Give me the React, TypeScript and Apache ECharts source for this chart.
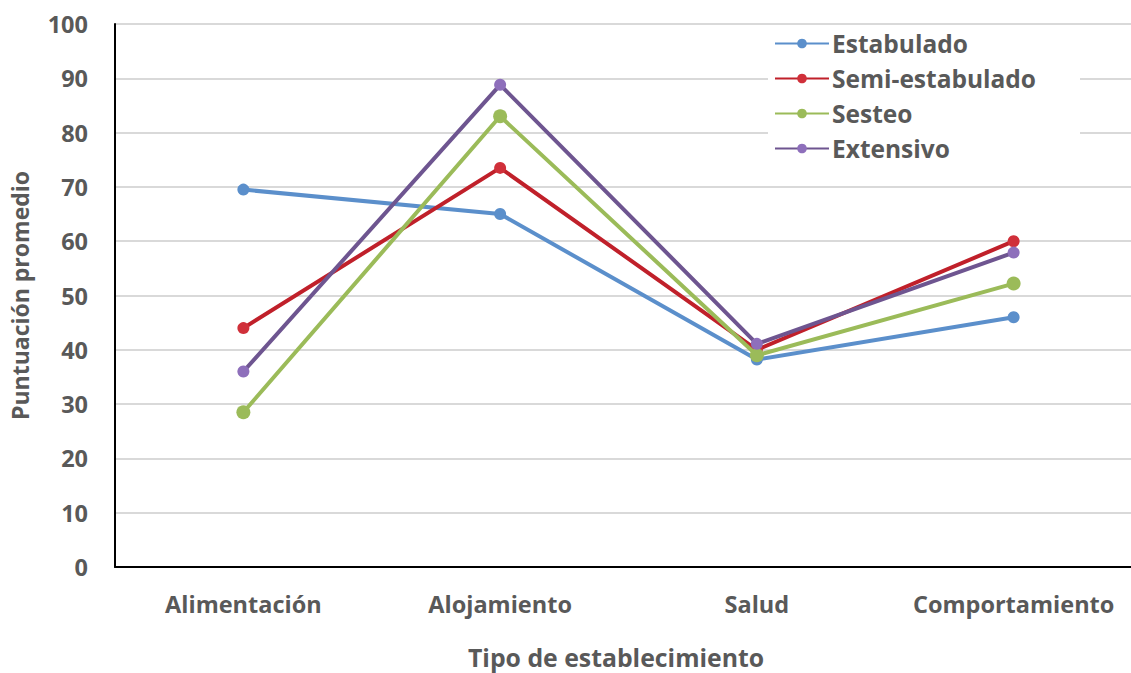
import React, { useEffect, useRef } from "react";
import * as echarts from "echarts";

const categories = ["Alimentación", "Alojamiento", "Salud", "Comportamiento"];
const seriesNames = ["Estabulado", "Semi-estabulado", "Sesteo", "Extensivo"];
const estabulado = [69.5, 65, 38.2, 46];
const semiEstabulado = [44, 73.5, 40, 60];
const sesteo = [28.5, 83, 39, 52.2];
const extensivo = [36, 88.8, 41.1, 57.9];
const yTicks = [0, 10, 20, 30, 40, 50, 60, 70, 80, 90, 100];

const lineColors = ["#5B8FCB", "#C0202A", "#9BBB59", "#6E5590"];
const markerColors = ["#5B8FCB", "#D0303A", "#9BBB59", "#8E6FBB"];
const FONT = "Open Sans";
const TEXT = "#595959";

export default function App() {
  const ref = useRef<HTMLDivElement>(null);
  useEffect(() => {
    if (!ref.current) return;
    const chart = echarts.init(ref.current, null, { renderer: "svg" });
    const data = [estabulado, semiEstabulado, sesteo, extensivo];
    chart.setOption({
      animation: false,
      backgroundColor: "#fff",
      textStyle: { fontFamily: FONT },
      grid: { left: 113, top: 24, bottom: 106, right: 0, containLabel: false },
      legend: {
        orient: "vertical",
        left: 768,
        top: 25,
        backgroundColor: "#fff",
        padding: [4, 44, 4, 6],
        itemWidth: 54,
        itemHeight: 12,
        itemGap: 6,
        data: seriesNames,
        textStyle: { fontFamily: FONT, fontSize: 24.5, fontWeight: "bold", color: TEXT, lineHeight: 29, padding: [0, 0, 0, -2] },
      },
      xAxis: {
        type: "category",
        data: categories,
        boundaryGap: true,
        axisLine: { lineStyle: { color: "#000", width: 2 } },
        axisTick: { show: false },
        axisLabel: { interval: 0, fontFamily: FONT, fontSize: 23.5, fontWeight: "bold", color: TEXT, margin: 25 },
        splitLine: { show: false },
      },
      yAxis: {
        type: "value",
        min: yTicks[0],
        max: yTicks[yTicks.length - 1],
        interval: 10,
        name: "Puntuación promedio",
        nameLocation: "middle",
        nameGap: 84,
        nameTextStyle: { fontFamily: FONT, fontSize: 23, fontWeight: "bold", color: TEXT },
        axisLine: { show: true, lineStyle: { color: "#000", width: 2 } },
        axisTick: { show: false },
        axisLabel: { fontFamily: FONT, fontSize: 23.5, fontWeight: "bold", color: TEXT, margin: 27 },
        splitLine: { lineStyle: { color: "#d9d9d9", width: 2 } },
      },
      graphic: [
        {
          type: "text",
          left: 468,
          top: 644,
          style: { text: "Tipo de establecimiento", fontFamily: FONT, fontSize: 24.8, fontWeight: "bold", fill: TEXT },
        },
      ],
      series: data.map((d, i) => ({
        name: seriesNames[i],
        type: "line",
        data: d,
        symbol: "circle",
        symbolSize: i === 2 ? 14 : 12,
        lineStyle: { color: lineColors[i], width: 4 },
        itemStyle: { color: markerColors[i] },
        z: 2 + i,
      })),
    });
    return () => chart.dispose();
  }, []);
  return (
    <div style={{ position: "fixed", left: 0, top: 0, width: 1131, height: 673, overflow: "hidden" }}>
      <div ref={ref} style={{ width: 1142, height: 673 }} />
    </div>
  );
}
